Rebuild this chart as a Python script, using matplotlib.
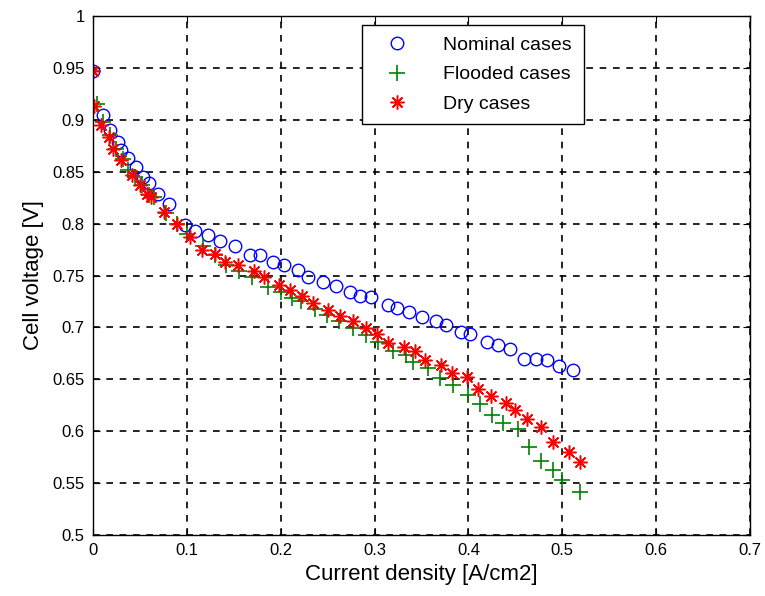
import numpy as np
import matplotlib
matplotlib.use('Agg')
import matplotlib.pyplot as plt

plt.rcParams['font.family'] = ['Liberation Sans', 'DejaVu Sans']

# Nominal cases (blue circles)
nom_j = [0.0, 0.011, 0.018, 0.027, 0.030, 0.037, 0.046, 0.053, 0.060, 0.069,
         0.081, 0.098, 0.109, 0.123, 0.135, 0.151, 0.167, 0.178, 0.192, 0.204,
         0.218, 0.229, 0.245, 0.259, 0.274, 0.284, 0.296, 0.314, 0.324, 0.337,
         0.350, 0.365, 0.376, 0.392, 0.402, 0.420, 0.432, 0.444, 0.459, 0.472,
         0.484, 0.496, 0.511]
nom_v = [0.947, 0.905, 0.890, 0.879, 0.871, 0.863, 0.855, 0.845, 0.839, 0.829,
         0.819, 0.799, 0.793, 0.789, 0.783, 0.778, 0.770, 0.770, 0.763, 0.760,
         0.755, 0.749, 0.744, 0.740, 0.734, 0.730, 0.729, 0.722, 0.719, 0.715,
         0.710, 0.706, 0.702, 0.696, 0.694, 0.686, 0.683, 0.679, 0.670, 0.670,
         0.669, 0.663, 0.659]

# Flooded cases (green plus)
fld_j = [0.0, 0.004, 0.011, 0.018, 0.025, 0.032, 0.037, 0.045, 0.052, 0.060,
         0.065, 0.078, 0.090, 0.100, 0.117, 0.130, 0.142, 0.156, 0.169, 0.186,
         0.200, 0.212, 0.222, 0.236, 0.249, 0.262, 0.277, 0.291, 0.304, 0.320,
         0.333, 0.341, 0.357, 0.370, 0.384, 0.400, 0.412, 0.425, 0.437, 0.453,
         0.464, 0.477, 0.490, 0.500, 0.519]
fld_v = [0.947, 0.915, 0.898, 0.885, 0.872, 0.862, 0.852, 0.845, 0.837, 0.828,
         0.826, 0.810, 0.800, 0.790, 0.778, 0.770, 0.760, 0.754, 0.749, 0.739,
         0.734, 0.728, 0.725, 0.718, 0.712, 0.706, 0.699, 0.693, 0.686, 0.677,
         0.673, 0.667, 0.661, 0.651, 0.645, 0.635, 0.626, 0.616, 0.608, 0.602,
         0.585, 0.571, 0.563, 0.553, 0.541]

# Dry cases (red asterisks)
dry_j = [0.0, 0.001, 0.008, 0.017, 0.021, 0.030, 0.041, 0.050, 0.057, 0.062,
         0.076, 0.090, 0.103, 0.116, 0.130, 0.141, 0.155, 0.172, 0.182, 0.198,
         0.210, 0.223, 0.234, 0.250, 0.263, 0.277, 0.291, 0.303, 0.314, 0.331,
         0.343, 0.354, 0.371, 0.382, 0.398, 0.410, 0.424, 0.440, 0.450, 0.462,
         0.477, 0.490, 0.507, 0.519]
dry_v = [0.947, 0.913, 0.895, 0.883, 0.872, 0.861, 0.847, 0.837, 0.829, 0.826,
         0.811, 0.800, 0.787, 0.775, 0.771, 0.763, 0.760, 0.754, 0.749, 0.741,
         0.736, 0.730, 0.724, 0.717, 0.711, 0.706, 0.699, 0.694, 0.685, 0.681,
         0.677, 0.669, 0.664, 0.656, 0.652, 0.641, 0.634, 0.627, 0.620, 0.612,
         0.604, 0.590, 0.580, 0.570]

fig = plt.figure(figsize=(7.65, 5.96), dpi=100)
ax = fig.add_axes([0.1216, 0.1023, 0.8588, 0.8708])

ax.plot(nom_j, nom_v, 'o', mfc='none', mec='blue', ms=9, mew=1.0,
        label='Nominal cases')
ax.plot(fld_j, fld_v, '+', color='green', ms=11, mew=1.2,
        label='Flooded cases')
ax.plot(dry_j, dry_v, marker=(8, 2, 0), ls='none', color='red', ms=10,
        mew=1.1, label='Dry cases')

ax.set_xlim(0, 0.7)
ax.set_ylim(0.5, 1.0)
ax.set_xticks(np.arange(0, 0.71, 0.1))
ax.set_yticks(np.arange(0.5, 1.001, 0.05))
ax.set_xticklabels(['0', '0.1', '0.2', '0.3', '0.4', '0.5', '0.6', '0.7'])
ax.set_yticklabels(['0.5', '0.55', '0.6', '0.65', '0.7', '0.75', '0.8',
                    '0.85', '0.9', '0.95', '1'])
ax.tick_params(direction='in', length=5, top=True, right=True,
               labelsize=12, pad=6)
ax.grid(True, color='black', linestyle=(0, (4, 4)), linewidth=1.2)
for s in ax.spines.values():
    s.set_linewidth(1.0)

ax.set_xlabel('Current density [A/cm2]', fontsize=16, labelpad=4)
ax.set_ylabel('Cell voltage [V]', fontsize=16, labelpad=6)

leg = ax.legend(loc='upper left', bbox_to_anchor=(0.409, 0.983),
                borderaxespad=0, fancybox=False, edgecolor='black',
                framealpha=1, fontsize=14, handletextpad=1.2, borderpad=0.6,
                labelspacing=0.6, handlelength=2.4)
leg.get_frame().set_linewidth(1.0)

fig.savefig('out.png', dpi=100)
